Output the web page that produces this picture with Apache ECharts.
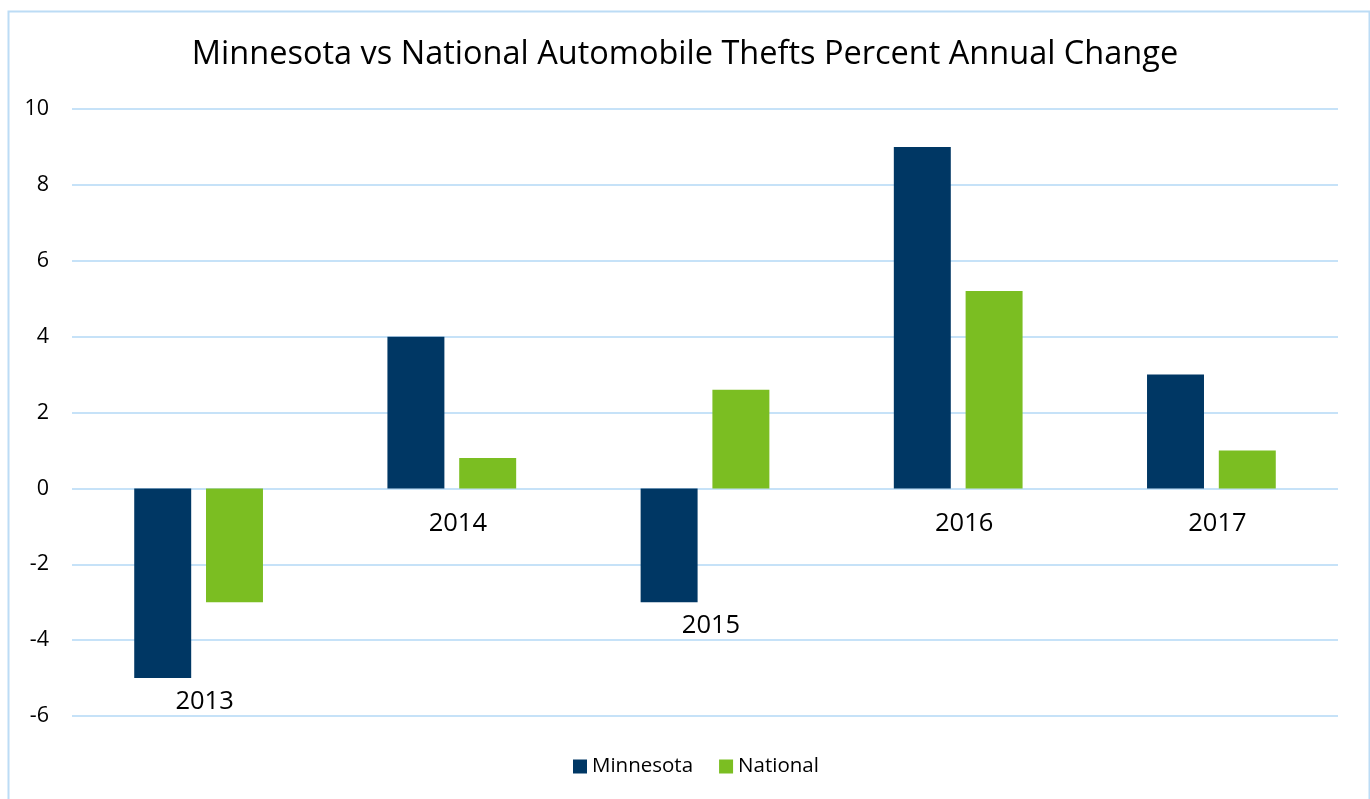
<!DOCTYPE html>
<html>
<head>
<meta charset="utf-8">
<script src="https://cdn.jsdelivr.net/npm/echarts@6/dist/echarts.min.js"></script>
<style>
  html, body { margin: 0; padding: 0; background: #ffffff; }
  #chart { width: 1370px; height: 799px; }
</style>
</head>
<body>
<div id="chart"></div>
<script>
// Annual percent change in automobile thefts
const years = ['2013', '2014', '2015', '2016', '2017'];
const minnesota = [-5, 4, -3, 9, 3];
const national = [-3, 0.8, 2.6, 5.2, 1.0];
const yTicks = { min: -6, max: 10, interval: 2 };

const FONT = 'Open Sans';
const NAVY = '#003764';
const GREEN = '#7bbe22';
const GRID_LINE = '#c6e2f8';

// Year labels sit just below the lowest bar in each group (or below the zero line)
const labelAnchors = years.map((y, i) => [i, Math.min(0, minnesota[i], national[i])]);

const chart = echarts.init(document.getElementById('chart'), null, { renderer: 'canvas' });

chart.setOption({
  animation: false,
  backgroundColor: '#ffffff',
  textStyle: { fontFamily: FONT },
  title: {
    text: 'Minnesota vs National Automobile Thefts Percent Annual Change',
    left: 'center',
    top: 33,
    textStyle: { fontFamily: FONT, fontSize: 32.5, fontWeight: 'normal', color: '#000000' }
  },
  graphic: [{
    type: 'rect',
    left: 6, top: 9,
    shape: { width: 1361, height: 800 },
    style: { fill: 'none', stroke: '#bcdcf5', lineWidth: 2 },
    silent: true
  }],
  legend: {
    bottom: 17,
    left: 568,
    itemWidth: 14,
    itemHeight: 14,
    itemGap: 26,
    icon: 'rect',
    textStyle: { fontFamily: FONT, fontSize: 20.5, color: '#000000' },
    data: ['Minnesota', 'National']
  },
  grid: { left: 72, right: 32, top: 109, bottom: 83, containLabel: false },
  xAxis: {
    type: 'category',
    data: years,
    axisLine: { show: false },
    axisTick: { show: false },
    axisLabel: { show: false }
  },
  yAxis: {
    type: 'value',
    min: yTicks.min,
    max: yTicks.max,
    interval: yTicks.interval,
    axisLine: { show: false },
    axisTick: { show: false },
    axisLabel: { fontFamily: FONT, fontSize: 21.5, color: '#000000', margin: 23 },
    splitLine: { lineStyle: { color: GRID_LINE, width: 2 } }
  },
  series: [
    {
      name: 'Minnesota',
      type: 'bar',
      data: minnesota,
      barWidth: '22.5%',
      barGap: '26%',
      itemStyle: { color: NAVY }
    },
    {
      name: 'National',
      type: 'bar',
      data: national,
      barWidth: '22.5%',
      itemStyle: { color: GREEN }
    },
    {
      name: 'yearLabels',
      type: 'custom',
      silent: true,
      z: 10,
      data: labelAnchors,
      renderItem: function (params, api) {
        const idx = api.value(0);
        const low = api.value(1);
        const p = api.coord([idx, low]);
        const offset = low < 0 ? 24 : 35;
        return {
          type: 'text',
          style: {
            text: years[idx],
            x: p[0] + 6,
            y: p[1] + offset,
            align: 'center',
            verticalAlign: 'middle',
            fontFamily: FONT,
            fontSize: 25.5,
            fill: '#000000'
          }
        };
      }
    }
  ]
});
</script>
</body>
</html>
